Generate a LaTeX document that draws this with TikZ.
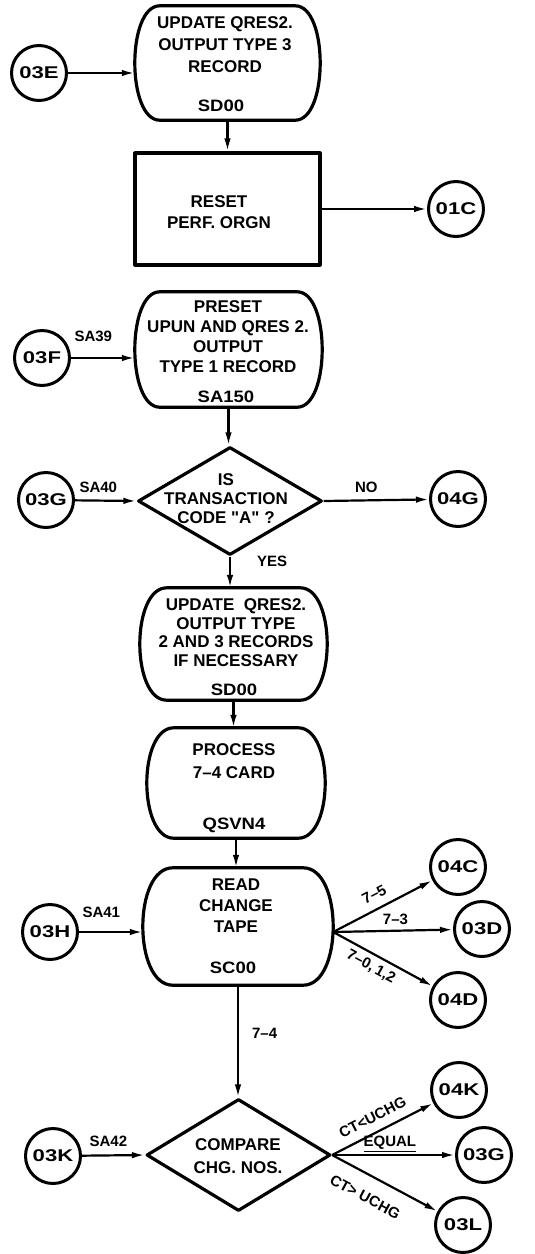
\documentclass[tikz,border=0pt]{standalone}
\usepackage{fontspec}
\setmainfont{Liberation Sans}
\newfontfamily\widesans{Liberation Sans}[FakeStretch=1.3]
\newfontfamily\codesans{Liberation Sans}[FakeStretch=1.12]
\usetikzlibrary{shapes.geometric,arrows.meta,calc}

% straight double quote, not turned into a curly one
\newcommand\straightquote{{\addfontfeature{Ligatures=TeXOff}"}}

\tikzset{
  outline/.style={line width=3.2pt, line join=round},
  flow/.style={line width=2.2pt, -{Latex[length=13pt,width=6.5pt]}},
  barrel/.style 2 args={rectangle, inner sep=0pt, minimum width=#1, minimum height=#2},
  procbox/.style 2 args={rectangle, draw, outline, inner sep=0pt, minimum width=#1, minimum height=#2},
  decision/.style 2 args={diamond, draw, outline, inner sep=0pt, minimum width=#1, minimum height=#2},
  conn/.style={circle, draw, line width=3pt, minimum size=55pt, inner sep=0pt,
               font=\widesans\bfseries\fontsize{17}{17}\selectfont},
  boxtext/.style={align=center, inner sep=0pt, font=\bfseries\fontsize{17}{#1}\selectfont},
  codetext/.style={inner sep=0pt, font=\codesans\bfseries\fontsize{16.5}{16.5}\selectfont},
  lbl/.style={inner sep=0pt, font=\bfseries\fontsize{15}{15}\selectfont},
}

% Outline of a process box with straight top/bottom and bulging sides.
% #1 = node name, #2 = horizontal inset of the straight edges
\newcommand\barreloutline[2]{%
  \draw[outline]
    ($(#1.north west)+(#2,0)$) -- ($(#1.north east)+(-#2,0)$)
    .. controls ($(#1.north east)+(#2/3,0)$) and ($(#1.south east)+(#2/3,0)$)
    .. ($(#1.south east)+(-#2,0)$)
    -- ($(#1.south west)+(#2,0)$)
    .. controls ($(#1.south west)+(-#2/3,0)$) and ($(#1.north west)+(-#2/3,0)$)
    .. cycle;}

\begin{document}
\begin{tikzpicture}[x=1pt,y=-1pt]
\useasboundingbox (0,0) rectangle (535,1254);

% ---- process boxes and decisions ----
\node[barrel={185pt}{114pt}] (b1) at (227.5,63) {};
\barreloutline{b1}{25}
\node[boxtext=22] (b1t) at (225,45) {UPDATE QRES2.\\OUTPUT TYPE 3\\RECORD};
\node[codetext] (b1c) at (221,106) {SD00};

\node[procbox={185pt}{112pt}] (b2) at (227.5,209) {};
\node[boxtext=21] (b2t) at (219,212.5) {RESET\\PERF. ORGN};

\node[barrel={187pt}{115pt}] (b3) at (228.5,349.5) {};
\barreloutline{b3}{25}
\node[boxtext=20] (b3t) at (228,337) {PRESET\\UPUN AND QRES 2.\\OUTPUT\\TYPE 1 RECORD};
\node[codetext] (b3c) at (226,397) {SA150};

\node[decision={184pt}{108pt}] (d1) at (230,501) {};
\node[boxtext=19] (d1t) at (226,499) {IS\\TRANSACTION\\CODE \straightquote A\straightquote\ ?};

\node[barrel={187pt}{112pt}] (b4) at (233.5,644) {};
\barreloutline{b4}{27}
\node[boxtext=18.5] (b4t) at (236,632.5) {UPDATE \ QRES2.\\OUTPUT TYPE\\2 AND 3 RECORDS\\IF NECESSARY};
\node[codetext] (b4c) at (234,690) {SD00};

\node[barrel={178pt}{110pt}] (b5) at (236,783) {};
\barreloutline{b5}{27}
\node[boxtext=23] (b5t) at (234,761.5) {PROCESS\\7–4 CARD};
\node[codetext] (b5c) at (234,825) {QSVN4};

\node[barrel={190pt}{117pt}] (b6) at (238,926.5) {};
\barreloutline{b6}{30}
\node[boxtext=21] (b6t) at (236,906) {READ\\CHANGE\\TAPE};
\node[codetext] (b6c) at (233,968) {SC00};

\node[decision={184pt}{112pt}] (d2) at (238.5,1155) {};
\node[boxtext=23] (d2t) at (238,1156.5) {COMPARE\\CHG. NOS.};

% ---- off-page connectors ----
\node[conn] (c03E) at (39,73) {03E};
\node[conn] (c01C) at (456,209) {01C};
\node[conn] (c03F) at (42,358) {03F};
\node[conn] (c03G) at (46,500) {03G};
\node[conn] (c04G) at (458,499) {04G};
\node[conn] (c03H) at (50,932) {03H};
\node[conn] (c04C) at (458,867) {04C};
\node[conn] (c03D) at (482,929) {03D};
\node[conn] (c04D) at (458,1000) {04D};
\node[conn] (c03K) at (53,1156) {03K};
\node[conn] (c04K) at (459,1090) {04K};
\node[conn] (c03Gb) at (484,1155) {03G};
\node[conn] (c03L) at (463,1225) {03L};

% ---- flow lines ----
\draw[flow] (c03E.east) -- (c03E.east -| b1.west);
\draw[flow] (b1.south) -- (b2.north);
\draw[flow] (b2.east) -- (c01C);

\draw[flow] (c03F.east) -- node[lbl, pos=0.35, above=15pt] (l39) {SA39} (c03F.east -| b3.west);
\draw[flow] (b3.south) -- (b3.south |- d1.north);
\draw[flow] (c03G) -- node[lbl, pos=0.38, above=7pt] (l40) {SA40} (d1.west);
\draw[flow] (d1.east) -- node[lbl, pos=0.405, above=6.5pt] (lno) {NO} (c04G);
\draw[flow] (d1.south) -- node[lbl, pos=0.15, right=26pt] (lyes) {YES} (d1.south |- b4.north);

\draw[flow] (b4.south) -- (b4.south |- b5.north);
\draw[flow] (b5.south) -- (b5.south |- b6.north);

\draw[flow] (c03H.east) -- node[lbl, pos=0.35, above=13.5pt] (l41) {SA41} (c03H.east -| b6.west);
\coordinate (b6out) at (b6.east |- c03H.east);
\draw[flow] (b6out) -- node[lbl, sloped, pos=0.48, above=8pt] (l75) {7–5} (c04C);
\draw[flow] (b6out) -- node[lbl, pos=0.52, above=5pt] (l73) {7–3} (c03D);
\draw[flow] (b6out) -- node[lbl, sloped, pos=0.44, below=5pt] (l70) {7–0,\kern3pt1,2} (c04D);
\draw[flow] (b6.south) -- node[lbl, pos=0.43, right=13pt] (l74) {7–4} (b6.south |- d2.north);

\draw[flow] (c03K) -- node[lbl, pos=0.42, above=8pt] (l42) {SA42} (d2.west);
\draw[flow] (d2.east) -- node[lbl, sloped, pos=0.47, above=9pt] (llt) {CT<UCHG} (c04K);
\draw[flow] (d2.east) -- node[lbl, pos=0.47, above=2pt] (leq) {\underline{EQUAL}} (c03Gb);
\draw[flow] (d2.east) -- node[lbl, sloped, pos=0.41, below=15pt] (lgt) {CT>\kern4pt UCHG} (c03L);
\end{tikzpicture}
\end{document}
